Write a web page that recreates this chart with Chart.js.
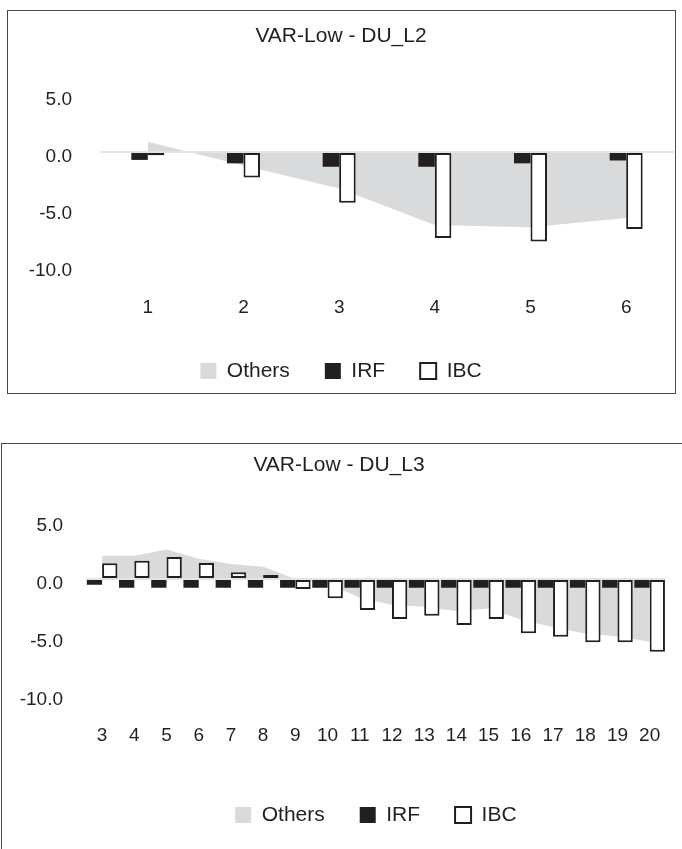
<!DOCTYPE html>
<html>
<head>
<meta charset="utf-8">
<script src="https://cdn.jsdelivr.net/npm/chart.js@4"></script>
<style>
  body { margin: 0; background: #fff; overflow: hidden; width: 682px; height: 849px; position: relative; }
  .box { position: absolute; border: 1px solid #4a4a4a; overflow: hidden; }
  #boxTop { left: 7px; top: 10px; width: 667px; height: 382px; }
  #boxBottom { left: 1px; top: 443px; width: 700px; height: 430px; }
  canvas { position: absolute; left: 0; top: 0; }
</style>
</head>
<body>
<div class="box" id="boxTop"><canvas id="chartTop" width="667" height="382"></canvas></div>
<div class="box" id="boxBottom"><canvas id="chartBottom" width="680" height="405"></canvas></div>
<script>
// DU_L2
const topLabels = ['1', '2', '3', '4', '5', '6'];
const topOthers = [0.9, -1.2, -3.2, -6.4, -6.6, -5.8];
const topIrf = [-0.7, -1.0, -1.3, -1.3, -1.0, -0.75];
const topIbc = [-0.3, -2.25, -4.45, -7.55, -7.85, -6.75];

// DU_L3
const bottomLabels = ['3', '4', '5', '6', '7', '8', '9', '10', '11', '12', '13', '14', '15', '16', '17', '18', '19', '20'];
const bottomOthers = [2.0, 2.0, 2.55, 1.75, 1.3, 1.05, 0.0, -0.4, -1.6, -2.25, -2.4, -2.75, -2.55, -3.5, -4.15, -4.7, -4.95, -5.4];
const bottomIrf = [-0.5, -0.75, -0.75, -0.75, -0.75, -0.75, -0.75, -0.75, -0.75, -0.75, -0.75, -0.75, -0.75, -0.75, -0.75, -0.75, -0.75, -0.75];
const bottomIbc = [1.35, 1.58, 1.9, 1.38, 0.58, 0.35, -0.86, -1.66, -2.67, -3.45, -3.16, -3.97, -3.45, -4.68, -4.97, -5.46, -5.46, -6.27];

const yTicks = [-10, -5, 0, 5];

const FONT = "'Liberation Sans', Arial, sans-serif";
const INK = '#231f20';

function buildChart(canvas, cfg) {
    return new Chart(canvas, {
        type: 'bar',
        data: {
            labels: cfg.labels,
            datasets: [
                { type: 'line', label: 'Others', data: cfg.others, order: 2, fill: 'origin',
                  backgroundColor: '#d9dadc', borderColor: 'transparent', borderWidth: 0, pointRadius: 0, tension: 0 },
                { label: 'IRF', data: cfg.irf, order: 1, backgroundColor: INK, borderWidth: 0,
                  categoryPercentage: cfg.catPct, barPercentage: 1 },
                { label: 'IBC', data: cfg.ibc, order: 1, backgroundColor: '#ffffff', borderColor: INK,
                  borderWidth: 2, borderSkipped: false, categoryPercentage: cfg.catPct, barPercentage: 1 }
            ]
        },
        options: {
            responsive: false,
            animation: false,
            layout: { padding: { left: 0, right: cfg.padRight, top: 0, bottom: cfg.padBottom } },
            plugins: {
                title: {
                    display: true, text: cfg.title, color: INK,
                    font: { family: FONT, size: 21, weight: 'normal', lineHeight: 1.2 },
                    padding: { top: cfg.titleTop, bottom: cfg.titleBottom }
                },
                legend: {
                    position: 'bottom', fullSize: cfg.legendFull,
                    labels: {
                        color: INK, font: { family: FONT, size: 21 }, boxWidth: 16, boxHeight: 16, padding: 35,
                        sort: (a, b) => a.datasetIndex - b.datasetIndex
                    }
                },
                tooltip: { enabled: false }
            },
            scales: {
                x: {
                    grid: { display: false }, border: { display: false },
                    ticks: { color: INK, font: { family: FONT, size: 19, lineHeight: 1.2 }, padding: cfg.xPad, maxRotation: 0, autoSkip: false },
                    afterFit: s => { s.height = cfg.xHeight; }
                },
                y: {
                    min: yTicks[0], max: yTicks[yTicks.length - 1],
                    afterBuildTicks: s => { s.ticks = yTicks.map(v => ({ value: v })); },
                    grid: { drawTicks: false, z: 1, lineWidth: 2, color: c => (c.tick && c.tick.value === 0) ? '#e4e4e4' : 'transparent' },
                    border: { display: false },
                    ticks: { color: INK, font: { family: FONT, size: 19, lineHeight: 1.2 }, padding: cfg.yPad, labelOffset: 5, callback: v => v.toFixed(1) },
                    afterFit: s => { s.width = cfg.yWidth; }
                }
            }
        }
    });
}

buildChart(document.getElementById('chartTop'), {
    labels: topLabels, others: topOthers, irf: topIrf, ibc: topIbc, title: 'VAR-Low - DU_L2',
    catPct: 0.345, padRight: 1, padBottom: 1.5, titleTop: 13, titleBottom: 45.7,
    xPad: 22.6, xHeight: 59.5, yPad: 28, yWidth: 92, legendFull: true
});

buildChart(document.getElementById('chartBottom'), {
    labels: bottomLabels, others: bottomOthers, irf: bottomIrf, ibc: bottomIbc, title: 'VAR-Low - DU_L3',
    catPct: 0.95, padRight: 6, padBottom: 13.5, titleTop: 8.4, titleBottom: 43.4,
    xPad: 21.6, xHeight: 74.5, yPad: 23, yWidth: 84, legendFull: false
});
</script>
</body>
</html>
